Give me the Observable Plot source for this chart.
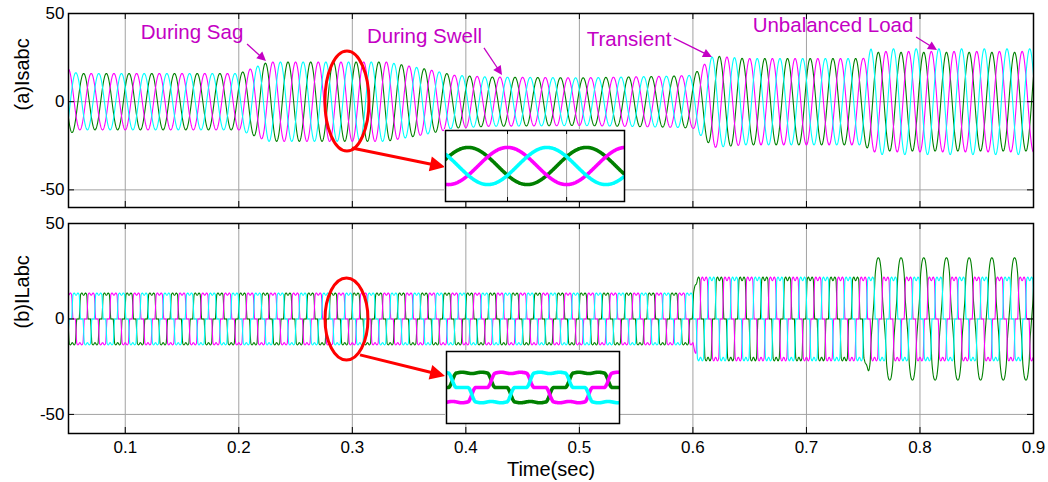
<!DOCTYPE html>
<html><head><meta charset="utf-8">
<script src="https://cdn.jsdelivr.net/npm/d3@7"></script>
<script src="https://cdn.jsdelivr.net/npm/@observablehq/plot@0.6"></script>
<style>
html,body{margin:0;padding:0;background:#fff;}
#chart{position:relative;width:1048px;height:482px;overflow:hidden;background:#fff;}
</style></head><body><div id="chart"></div>
<script>
// ---------------- data ----------------
const timeDomain = [0.05, 0.9];
const valueDomain = [-60, 50];
const xTicks = [0.1, 0.2, 0.3, 0.4, 0.5, 0.6, 0.7, 0.8, 0.9];
const yTicks = [-50, 0, 50];
const phaseNames = ["a", "b", "c"];
const phaseColors = ["#008000", "#ff00ff", "#00ffff"];
const phaseShiftDeg = [120, 0, -120];
const frequencyHz = 50;
const referencePeakTime = 0.05;

// (a) Isabc: peak amplitude (A) of the source currents, read at these times
const isEnvTime    = [0.05, 0.058, 0.2, 0.226, 0.33, 0.365, 0.39, 0.42, 0.5, 0.58, 0.6, 0.618, 0.645, 0.75, 0.757, 0.9];
const isEnvPhaseA  = [18.5, 16, 16, 22.5, 22.5, 18.5, 15, 14, 13.5, 14.5, 15, 26, 24.5, 24.5, 28, 28];
const isEnvPhaseB  = [18.5, 16, 16, 22.5, 22.5, 18.5, 15, 14, 13.5, 14.5, 15, 26, 24.5, 24.5, 28.5, 28.5];
const isEnvPhaseC  = [18.5, 16, 16, 22.5, 22.5, 18.5, 15, 14, 13.5, 14.5, 15, 26, 24.5, 24.5, 30, 30];

// (b) ILabc: plateau level of the six-step load currents, and the unbalanced part of phase a
const ilEnvTime    = [0.05, 0.6, 0.604, 0.9];
const ilLevel      = [13, 13, 21, 21];
const ilUnbTime    = [0.05, 0.751, 0.757, 0.9];
const ilStepShareA = [1, 1, 0.35, 0.35];
const ilStepShareB = [1, 1, 1, 1];
const ilStepShareC = [1, 1, 1, 1];
const ilSinePeakA  = [0, 0, 25, 25];
const ilSinePeakB  = [0, 0, 0, 0];
const ilSinePeakC  = [0, 0, 0, 0];

// insets (zoomed windows)
const topInsetWindow = [0.2795, 0.3098];
const topInsetGrid = [0.29, 0.30];
const botInsetWindow = [0.279, 0.3086];

// annotations
const noteLabels = ["During Sag", "During Swell", "Transient", "Unbalanced Load"];
const noteT  = [0.1588, 0.3636, 0.5437, 0.7234];
const noteV  = [39.4, 36.8, 35.1, 43.0];
const noteT1 = [0.2077, 0.4164, 0.5837, 0.7970];
const noteV1 = [32.4, 30.2, 35.8, 36.4];
const noteT2 = [0.2244, 0.4323, 0.6172, 0.8154];
const noteV2 = [22.8, 14.9, 25.1, 29.0];
const topEllipse = {t: 0.2957, v: 0.1, rt: 0.0194, rv: 28.4};
const botEllipse = {t: 0.2953, v: -0.3, rt: 0.0189, rv: 21.5};
const topRedArrow = [{t1: 0.3001, v1: -26.5, t2: 0.3821, v2: -37.3}];
const botRedArrow = [{t1: 0.3072, v1: -19.1, t2: 0.3821, v2: -30.1}];

// ---------------- waveform construction ----------------
const isEnv = [isEnvPhaseA, isEnvPhaseB, isEnvPhaseC];
const ilShare = [ilStepShareA, ilStepShareB, ilStepShareC];
const ilSine = [ilSinePeakA, ilSinePeakB, ilSinePeakC];
function lerp(ts, vs, t) {
  const i = d3.bisectRight(ts, t);
  if (i <= 0) return vs[0];
  if (i >= ts.length) return vs[vs.length - 1];
  const f = (t - ts[i - 1]) / (ts[i] - ts[i - 1]);
  return vs[i - 1] + f * (vs[i] - vs[i - 1]);
}
function angle(t, k) {
  let a = 360 * frequencyHz * (t - referencePeakTime) + phaseShiftDeg[k];
  return ((a + 180) % 360 + 360) % 360 - 180;
}
const smooth = x => x * x * (3 - 2 * x);
function sixStep(psi) {
  const a = Math.abs(psi), w = 12;
  let p;
  if (a <= 60 - w) p = 1;
  else if (a < 60 + w) p = 1 - smooth((a - (60 - w)) / (2 * w));
  else if (a <= 120 - w) p = 0;
  else if (a < 120 + w) p = -smooth((a - (120 - w)) / (2 * w));
  else p = -1;
  return p * (1 - 0.045 * Math.cos(6 * psi * Math.PI / 180));
}
function sourceValue(t, k) { return lerp(isEnvTime, isEnv[k], t) * Math.cos(angle(t, k) * Math.PI / 180); }
function loadValue(t, k) {
  const psi = angle(t, k);
  return lerp(ilEnvTime, ilLevel, t) * lerp(ilUnbTime, ilShare[k], t) * sixStep(psi)
       + lerp(ilUnbTime, ilSine[k], t) * Math.cos(psi * Math.PI / 180);
}
function series(f, t0, t1, dt) {
  const n = Math.round((t1 - t0) / dt);
  return phaseNames.map((p, k) => d3.range(n + 1).map(i => { const t = t0 + i * dt; return {t, v: f(t, k)}; }));
}
const topSeries = series(sourceValue, timeDomain[0], timeDomain[1], 0.0002);
const botSeries = series(loadValue, timeDomain[0], timeDomain[1], 0.0002);
const topInsetSeries = series(sourceValue, topInsetWindow[0], topInsetWindow[1], 0.0001);
const botInsetSeries = series(loadValue, botInsetWindow[0], botInsetWindow[1], 0.0001);

// ---------------- helpers ----------------
const FONT = '"Liberation Sans", Arial, Helvetica, sans-serif';
const ANNOT = "#c400c4";
const GRID = "#a2a2a2";
function arrowMark(rows, color, width, headLen, headHalf) {
  return (index, {x, y}) => {
    const g = d3.create("svg:g");
    for (const r of rows) {
      const x1 = x(r.t1), y1 = y(r.v1), x2 = x(r.t2), y2 = y(r.v2);
      const L = Math.hypot(x2 - x1, y2 - y1), ux = (x2 - x1) / L, uy = (y2 - y1) / L;
      const bx = x2 - ux * headLen, by = y2 - uy * headLen;
      g.append("line").attr("x1", x1).attr("y1", y1).attr("x2", bx + ux).attr("y2", by + uy)
        .attr("stroke", color).attr("stroke-width", width);
      g.append("polygon").attr("fill", color)
        .attr("points", `${x2},${y2} ${bx - uy * headHalf},${by + ux * headHalf} ${bx + uy * headHalf},${by - ux * headHalf}`);
    }
    return g.node();
  };
}
function ellipseMark(e, color, width) {
  return (index, {x, y}) => d3.create("svg:ellipse")
    .attr("cx", x(e.t)).attr("cy", y(e.v))
    .attr("rx", Math.abs(x(e.t + e.rt) - x(e.t))).attr("ry", Math.abs(y(e.v + e.rv) - y(e.v)))
    .attr("fill", "none").attr("stroke", color).attr("stroke-width", width).node();
}
function waveLines(ser, width, clip) {
  return ser.map((s, k) => Plot.line(s, {x: "t", y: "v", stroke: phaseColors[k], strokeWidth: width, clip}));
}
function frameTicks(H, W, len) {
  return [
    Plot.ruleX(xTicks, {x: d => d, insetTop: H - len, stroke: "black"}),
    Plot.ruleX(xTicks, {x: d => d, insetBottom: H - len, stroke: "black"}),
    Plot.ruleY(yTicks, {y: d => d, insetRight: W - len, stroke: "black"}),
    Plot.ruleY(yTicks, {y: d => d, insetLeft: W - len, stroke: "black"})
  ];
}

const container = document.getElementById("chart");
function place(el, left, top) {
  el.style.position = "absolute"; el.style.left = left + "px"; el.style.top = top + "px";
  container.appendChild(el);
}
const ML = 68, MR = 15, W = 1048;
const plotW = W - ML - MR;

// ---------------- (a) panel ----------------
const topH = 215, topMT = 13, topMB = 8;
const topPlot = Plot.plot({
  width: W, height: topH, marginTop: topMT, marginBottom: topMB, marginLeft: ML, marginRight: MR,
  x: {domain: timeDomain, label: null, axis: null},
  y: {domain: valueDomain, label: null},
  style: {fontFamily: FONT, fontSize: "17px", color: "black", background: "transparent", overflow: "visible"},
  marks: [
    Plot.gridX(xTicks, {stroke: GRID, strokeOpacity: 1}),
    Plot.gridY(yTicks, {stroke: GRID, strokeOpacity: 1}),
    ...waveLines(topSeries, 1.1, true),
    Plot.axisY(yTicks, {anchor: "left", tickSize: 0, tickPadding: 4, tickFormat: d => String(d), label: null, fontSize: 17}),
    ...frameTicks(topH - topMT - topMB, plotW, 6),
    Plot.frame({stroke: "black", strokeWidth: 1.5}),
    Plot.text(["(a)Isabc"], {frameAnchor: "left", rotate: -90, dx: -46, fontSize: 20}),
    Plot.text(noteLabels, {x: (d, i) => noteT[i], y: (d, i) => noteV[i], text: d => d, fill: ANNOT, fontSize: 20.5}),
    arrowMark(noteLabels.map((d, i) => ({t1: noteT1[i], v1: noteV1[i], t2: noteT2[i], v2: noteV2[i]})), ANNOT, 1.3, 9, 4.5),
    ellipseMark(topEllipse, "#ff0000", 3),
    arrowMark(topRedArrow, "#ff0000", 3, 15, 7.5)
  ]
});
place(topPlot, 0, 0);

// ---------------- (b) panel ----------------
const botTop = 215, botH = 267, botMT = 8, botMB = 49;
const botPlot = Plot.plot({
  width: W, height: botH, marginTop: botMT, marginBottom: botMB, marginLeft: ML, marginRight: MR,
  x: {domain: timeDomain, label: null},
  y: {domain: valueDomain, label: null},
  style: {fontFamily: FONT, fontSize: "17px", color: "black", background: "transparent", overflow: "visible"},
  marks: [
    Plot.gridX(xTicks, {stroke: GRID, strokeOpacity: 1}),
    Plot.gridY(yTicks, {stroke: GRID, strokeOpacity: 1}),
    ...waveLines(botSeries, 1.1, true),
    Plot.axisY(yTicks, {anchor: "left", tickSize: 0, tickPadding: 4, tickFormat: d => String(d), label: null, fontSize: 17}),
    Plot.axisX(xTicks, {anchor: "bottom", tickSize: 0, tickPadding: 7, tickFormat: d => d.toFixed(1), label: null, fontSize: 17}),
    ...frameTicks(botH - botMT - botMB, plotW, 6),
    Plot.frame({stroke: "black", strokeWidth: 1.5}),
    Plot.text(["(b)ILabc"], {frameAnchor: "left", rotate: -90, dx: -46, fontSize: 20}),
    Plot.text(["Time(sec)"], {frameAnchor: "bottom", lineAnchor: "middle", dy: 36, fontSize: 20}),
    ellipseMark(botEllipse, "#ff0000", 3),
    arrowMark(botRedArrow, "#ff0000", 3, 15, 7.5)
  ]
});
place(botPlot, 0, botTop);

// ---------------- insets ----------------
const topInset = Plot.plot({
  width: 181, height: 73, marginTop: 1, marginBottom: 1, marginLeft: 1, marginRight: 1,
  x: {domain: topInsetWindow, label: null, axis: null},
  y: {domain: [-43, 43], label: null, axis: null},
  style: {background: "white", overflow: "visible"},
  marks: [
    Plot.gridX(topInsetGrid, {stroke: GRID, strokeOpacity: 1}),
    Plot.ruleX(topInsetGrid, {x: d => d, insetTop: 67, stroke: "black"}),
    Plot.ruleX(topInsetGrid, {x: d => d, insetBottom: 67, stroke: "black"}),
    ...waveLines(topInsetSeries, 3.6, true),
    Plot.frame({stroke: "black", strokeWidth: 1.5})
  ]
});
place(topInset, 444, 129);

const botInset = Plot.plot({
  width: 175, height: 74, marginTop: 1, marginBottom: 1, marginLeft: 1, marginRight: 1,
  x: {domain: botInsetWindow, label: null, axis: null},
  y: {domain: [-32, 32], label: null, axis: null},
  style: {background: "white", overflow: "visible"},
  marks: [
    ...waveLines(botInsetSeries, 3.6, true),
    Plot.frame({stroke: "black", strokeWidth: 1.5})
  ]
});
place(botInset, 445, 350);
</script></body></html>
